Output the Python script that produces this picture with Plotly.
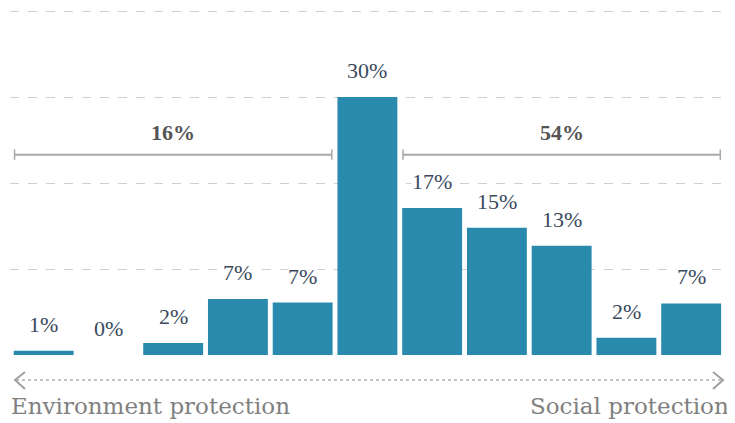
import plotly.graph_objects as go

# ---- data ----
positions = list(range(11))
values = [0.5, 0.0, 1.4, 6.5, 6.1, 30.0, 17.1, 14.8, 12.7, 2.0, 6.0]
value_labels = ["1%", "0%", "2%", "7%", "7%", "30%", "17%", "15%", "13%", "2%", "7%"]
group_left = [0, 4]      # first and last bar index of left group
group_right = [6, 10]    # first and last bar index of right group
group_labels = ["16%", "54%"]
axis_left_label = "Environment protection"
axis_right_label = "Social protection"
grid_vals = [0, 10, 20, 30, 40]

BAR = "#2a8aad"
LABEL = "#3a4a5e"
GREY = "#a8a8a8"

fig = go.Figure()
fig.add_bar(x=positions, y=values, marker_color=BAR, marker_line_width=0,
            width=0.925, hoverinfo="skip")

# value labels
for xi, v, t in zip(positions, values, value_labels):
    fig.add_annotation(x=xi, y=v, text=t, showarrow=False, yanchor="bottom",
                       yshift=13, bgcolor="white", borderpad=0,
                       font=dict(family="Liberation Serif", size=22, color=LABEL))

# brackets
bracket_y = 23.3
for (a, b), lab in zip([group_left, group_right], group_labels):
    x0, x1 = a - 0.45, b + 0.45
    fig.add_shape(type="line", x0=x0, x1=x1, y0=bracket_y, y1=bracket_y,
                  xref="x", yref="y", line=dict(color=GREY, width=2))
    for xe in (x0, x1):
        fig.add_shape(type="line", x0=xe, x1=xe, y0=bracket_y - 0.6, y1=bracket_y + 0.6,
                      xref="x", yref="y", line=dict(color=GREY, width=1.5))
    fig.add_annotation(x=(x0 + x1) / 2, y=bracket_y, text="<b>%s</b>" % lab,
                       showarrow=False, yanchor="bottom", yshift=8,
                       font=dict(family="Liberation Serif", size=22, color="#555555"))

# bottom double arrow (paper coords; page has an 8px body offset)
L, W, B, H = 10, 720, 355, 347
def px(xp):
    return (xp - L) / W
def py(yp):
    return (B - yp) / H

ay = 380
fig.add_shape(type="line", xref="paper", yref="paper", x0=px(16), x1=px(722),
              y0=py(ay), y1=py(ay), line=dict(color="#b0b0b0", width=1.5, dash="dot"))
fig.add_shape(type="path", xref="paper", yref="paper",
              path="M %f %f L %f %f L %f %f" % (px(25), py(372), px(15), py(ay), px(25), py(389)),
              line=dict(color="#a0a0a0", width=2))
fig.add_shape(type="path", xref="paper", yref="paper",
              path="M %f %f L %f %f L %f %f" % (px(713), py(372), px(723), py(ay), px(713), py(389)),
              line=dict(color="#a0a0a0", width=2))

fig.add_annotation(xref="paper", yref="paper", x=px(9), y=py(391), text=axis_left_label,
                   showarrow=False, xanchor="left", yanchor="top",
                   font=dict(family="DejaVu Serif", size=23, color="#808080"))
fig.add_annotation(xref="paper", yref="paper", x=px(731), y=py(391), text=axis_right_label,
                   showarrow=False, xanchor="right", yanchor="top",
                   font=dict(family="DejaVu Serif", size=23, color="#808080"))

fig.update_layout(
    width=727, height=415,
    margin=dict(l=2, r=5, t=0, b=68),
    paper_bgcolor="white", plot_bgcolor="white",
    showlegend=False, bargap=0.075,
    xaxis=dict(range=[-0.52, 10.6], showgrid=False, zeroline=False,
               showticklabels=False, ticks="", showline=False, fixedrange=True),
    yaxis=dict(range=[0, 40.35], tickvals=grid_vals, showticklabels=False,
               showgrid=True, gridcolor="#cfcfcf", griddash="dash", gridwidth=1,
               zeroline=False, showline=False, ticks="", fixedrange=True),
)

fig.write_html("out.html", config={"displayModeBar": False})
